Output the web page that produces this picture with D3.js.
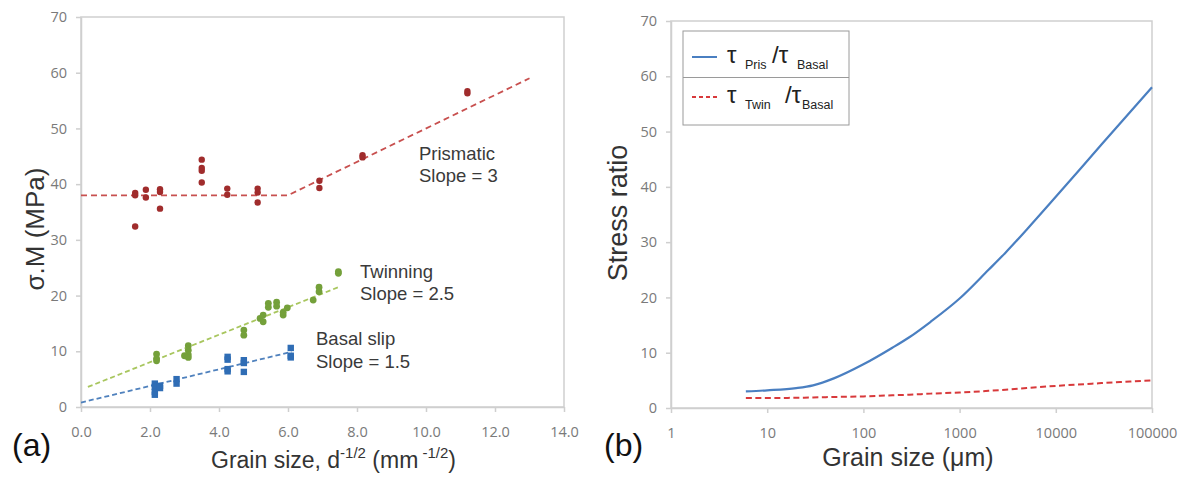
<!DOCTYPE html>
<html>
<head>
<meta charset="utf-8">
<script src="https://cdn.jsdelivr.net/npm/d3@7"></script>
<style>
  body { margin: 0; background: #fff; }
  text { font-family: "Liberation Sans", Arial, sans-serif; }
  .tick text { font-family: "Open Sans", Lato, sans-serif; fill: #7a7a7a; }
</style>
</head>
<body>
<svg id="fig"></svg>
<script>
// ---- data: panel (a) ----
const prismatic = [
  [1.57,38.4],[1.57,38.0],[1.57,32.4],
  [1.88,39.0],[1.88,37.6],
  [2.29,39.1],[2.29,38.6],[2.29,35.6],
  [3.5,44.4],[3.5,42.9],[3.5,42.4],[3.5,40.3],
  [4.24,39.2],[4.24,38.1],
  [5.12,39.2],[5.12,38.5],[5.12,36.7],
  [6.91,40.6],[6.91,39.3],
  [8.16,45.2],[8.16,44.8],
  [11.2,56.7],[11.2,56.3]
];
const twinning = [
  [2.19,9.5],[2.19,8.7],[2.19,8.3],
  [3.11,11.0],[3.11,10.2],[3.11,9.4],[3.11,8.9],[3.0,9.2],
  [4.72,13.8],[4.72,12.9],
  [5.19,15.9],[5.28,16.5],[5.28,15.3],[5.43,18.6],[5.43,17.9],
  [5.67,18.8],[5.67,18.1],[5.86,16.5],[5.86,17.0],[5.98,17.8],
  [6.73,19.2],[6.9,21.5],[6.9,20.7],[7.46,24.3],[7.46,24.0]
];
const basal = [
  [2.14,4.2],[2.14,3.6],[2.14,2.7],[2.14,2.2],[2.29,3.8],[2.29,3.4],
  [2.77,5.0],[2.77,4.2],
  [4.25,9.0],[4.25,8.5],[4.25,6.8],[4.25,6.4],
  [4.72,8.4],[4.72,7.9],[4.72,6.3],
  [6.08,10.6],[6.08,9.2],[6.08,8.9]
];
const prismFit = [[0,38],[6,38],[13,59]];
const twinFit = [[0.2,3.6],[7.5,21.6]];
const basalFit = [[0,0.8],[6.1,9.9]];
const xTicksA = [0,2,4,6,8,10,12,14];
const yTicks = [0,10,20,30,40,50,60,70];

// ---- data: panel (b) ----
const grainSize = [6,10,20,30,50,100,200,300,500,1000,2000,3000,5000,10000,30000,100000];
const prisBasal = [3.0,3.2,3.6,4.1,5.4,7.9,10.9,12.8,15.6,19.8,25.0,28.1,32.3,38.2,47.7,58.0];
const twinBasal = [1.8,1.8,1.85,1.9,2.0,2.1,2.3,2.4,2.6,2.8,3.1,3.3,3.6,4.0,4.5,5.0];
const xTicksB = [1,10,100,1000,10000,100000];

const W = 1185, H = 479;
const frameCol = '#cfcfcf';
const svg = d3.select('#fig').attr('width', W).attr('height', H);
svg.append('rect').attr('width', W).attr('height', H).attr('fill', '#fff');

function frame(x0, x1, y0, y1) {
  svg.append('rect')
    .attr('x', x0).attr('y', y1)
    .attr('width', x1 - x0).attr('height', y0 - y1)
    .attr('fill', 'none').attr('stroke', frameCol).attr('stroke-width', 1.5);
}
function styleAxis(g) {
  g.selectAll('path.domain').attr('stroke', frameCol).attr('stroke-width', 1.5);
  g.selectAll('.tick line').attr('stroke', frameCol).attr('stroke-width', 1.5);
  g.selectAll('.tick text').attr('font-size', 14.5);
}

// ================= panel (a) =================
const xA = d3.scaleLinear().domain([0, 14]).range([81, 564]);
const yA = d3.scaleLinear().domain([0, 70]).range([407, 17]);
frame(81, 564, 407, 17);

svg.append('g').attr('transform', 'translate(0,407)')
  .call(d3.axisBottom(xA).tickValues(xTicksA).tickFormat(d3.format('.1f')).tickSize(5).tickSizeOuter(0).tickPadding(15))
  .call(styleAxis);
svg.append('g').attr('transform', 'translate(81,0)')
  .call(d3.axisLeft(yA).tickValues(yTicks).tickFormat(d3.format('d')).tickSize(5).tickSizeOuter(0).tickPadding(9))
  .call(styleAxis);

const lineA = d3.line().x(d => xA(d[0])).y(d => yA(d[1]));
svg.append('path').attr('d', lineA(prismFit)).attr('fill', 'none')
  .attr('stroke', '#c8504f').attr('stroke-width', 1.8).attr('stroke-dasharray', '6,4');
svg.append('path').attr('d', lineA(twinFit)).attr('fill', 'none')
  .attr('stroke', '#a8c65e').attr('stroke-width', 1.8).attr('stroke-dasharray', '5,3');
svg.append('path').attr('d', lineA(basalFit)).attr('fill', 'none')
  .attr('stroke', '#4f81bd').attr('stroke-width', 1.8).attr('stroke-dasharray', '5,3');

svg.append('g').selectAll('circle').data(prismatic).join('circle')
  .attr('cx', d => xA(d[0])).attr('cy', d => yA(d[1])).attr('r', 3.2)
  .attr('fill', '#a02c2c');
svg.append('g').selectAll('circle').data(twinning).join('circle')
  .attr('cx', d => xA(d[0])).attr('cy', d => yA(d[1])).attr('r', 3.4)
  .attr('fill', '#74a03a');
svg.append('g').selectAll('rect').data(basal).join('rect')
  .attr('x', d => xA(d[0]) - 3.2).attr('y', d => yA(d[1]) - 3.2)
  .attr('width', 6.4).attr('height', 6.4)
  .attr('fill', '#2f6db5');

// labels inside panel (a)
const notes = [
  { t: 'Prismatic', x: 419, y: 160 }, { t: 'Slope = 3', x: 419, y: 182 },
  { t: 'Twinning', x: 360, y: 278 }, { t: 'Slope = 2.5', x: 360, y: 300 },
  { t: 'Basal slip', x: 316, y: 345 }, { t: 'Slope = 1.5', x: 316, y: 368 }
];
svg.append('g').selectAll('text').data(notes).join('text')
  .attr('x', d => d.x).attr('y', d => d.y).text(d => d.t)
  .attr('font-size', 18.5).attr('fill', '#3a3a3a');

svg.append('text')
  .attr('transform', 'translate(44,229) rotate(-90)')
  .attr('text-anchor', 'middle').attr('font-size', 26).attr('fill', '#333')
  .text('σ.M (MPa)');

const xtA = svg.append('text').attr('x', 211).attr('y', 468)
  .attr('font-size', 23).attr('fill', '#333');
xtA.append('tspan').text('Grain size, d');
xtA.append('tspan').attr('dy', -10).attr('font-size', 15).text('-1/2');
xtA.append('tspan').attr('dy', 10).text('  (mm');
xtA.append('tspan').attr('dy', -10).attr('font-size', 15).text(' -1/2');
xtA.append('tspan').attr('dy', 10).text(')');

svg.append('text').attr('x', 12).attr('y', 456).attr('font-size', 32).attr('fill', '#111').text('(a)');

// ================= panel (b) =================
const xB = d3.scaleLog().domain([1, 100000]).range([671, 1152]);
const yB = d3.scaleLinear().domain([0, 70]).range([408, 21]);
frame(671, 1152, 408, 21);

svg.append('g').attr('transform', 'translate(0,408)')
  .call(d3.axisBottom(xB).tickValues(xTicksB).tickFormat(d => String(d)).tickSize(5).tickSizeOuter(0).tickPadding(15))
  .call(styleAxis);
svg.append('g').attr('transform', 'translate(671,0)')
  .call(d3.axisLeft(yB).tickValues(yTicks).tickFormat(d3.format('d')).tickSize(5).tickSizeOuter(0).tickPadding(9))
  .call(styleAxis);

const ratioLine = d3.line().curve(d3.curveMonotoneX)
  .x((d, i) => xB(grainSize[i])).y(d => yB(d));
svg.append('path').attr('d', ratioLine(prisBasal)).attr('fill', 'none')
  .attr('stroke', '#4a7fc1').attr('stroke-width', 2.2);
svg.append('path').attr('d', ratioLine(twinBasal)).attr('fill', 'none')
  .attr('stroke', '#d8393b').attr('stroke-width', 2).attr('stroke-dasharray', '6,3.5');

// legend
const leg = svg.append('g');
leg.append('rect').attr('x', 683).attr('y', 31).attr('width', 166).attr('height', 94)
  .attr('fill', '#fff').attr('stroke', '#9a9a9a').attr('stroke-width', 1);
leg.append('line').attr('x1', 683).attr('x2', 849).attr('y1', 77.5).attr('y2', 77.5)
  .attr('stroke', '#9a9a9a').attr('stroke-width', 1);
leg.append('line').attr('x1', 692).attr('x2', 717).attr('y1', 57).attr('y2', 57)
  .attr('stroke', '#4a7fc1').attr('stroke-width', 2);
leg.append('line').attr('x1', 692).attr('x2', 717).attr('y1', 97).attr('y2', 97)
  .attr('stroke', '#d8393b').attr('stroke-width', 2).attr('stroke-dasharray', '4,3');

function ratioLabel(y, sub, xSub, xSlash, xBasal) {
  const g = leg.append('g').attr('fill', '#222');
  g.append('text').attr('x', 727).attr('y', y).attr('font-size', 24).text('τ');
  g.append('text').attr('x', xSub).attr('y', y + 6).attr('font-size', 12.5).text(sub);
  g.append('text').attr('x', xSlash).attr('y', y).attr('font-size', 24).text('/τ');
  g.append('text').attr('x', xBasal).attr('y', y + 6).attr('font-size', 12.5).text('Basal');
}
ratioLabel(63, 'Pris', 745, 772, 797);
ratioLabel(103, 'Twin', 745, 785, 802);

svg.append('text')
  .attr('transform', 'translate(627,213) rotate(-90)')
  .attr('text-anchor', 'middle').attr('font-size', 27).attr('fill', '#333')
  .text('Stress ratio');
svg.append('text').attr('x', 908).attr('y', 466).attr('text-anchor', 'middle')
  .attr('font-size', 25).attr('fill', '#333').text('Grain size (μm)');
svg.append('text').attr('x', 604).attr('y', 456).attr('font-size', 32).attr('fill', '#111').text('(b)');
</script>
</body>
</html>
